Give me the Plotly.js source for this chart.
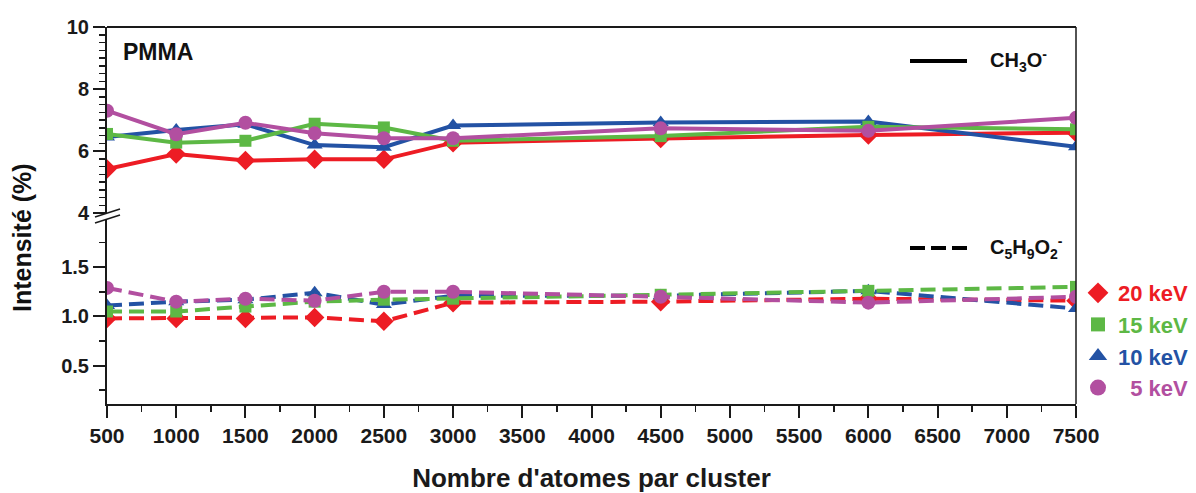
<!DOCTYPE html>
<html>
<head>
<meta charset="utf-8">
<script src="https://cdn.plot.ly/plotly-3.0.1.min.js"></script>
<style>html,body{margin:0;padding:0;background:#fff;}#chart{width:1196px;height:493px;}</style>
</head>
<body>
<div id="chart"></div>
<script>
// Cluster sizes (x axis)
const atoms = [500, 1000, 1500, 2000, 2500, 3000, 4500, 6000, 7500];
const energies = ['20 keV', '15 keV', '10 keV', '5 keV'];
const energyLabels = ['20 keV', '15 keV', '10 keV', '\u00a0\u00a05 keV'];

// CH3O- intensities (%), upper panel
const ch3o_20 = [5.42, 5.90, 5.69, 5.73, 5.73, 6.27, 6.40, 6.52, 6.59];
const ch3o_15 = [6.55, 6.27, 6.33, 6.88, 6.76, 6.33, 6.48, 6.78, 6.70];
const ch3o_10 = [6.45, 6.68, 6.86, 6.19, 6.12, 6.82, 6.92, 6.95, 6.14];
const ch3o_5  = [7.30, 6.54, 6.91, 6.57, 6.41, 6.41, 6.73, 6.65, 7.07];

// C5H9O2- intensities (%), lower panel
const c5_20 = [0.98, 0.98, 0.98, 0.99, 0.95, 1.14, 1.15, 1.18, 1.16];
const c5_15 = [1.05, 1.05, 1.10, 1.15, 1.17, 1.18, 1.22, 1.26, 1.30];
const c5_10 = [1.11, 1.15, 1.17, 1.24, 1.12, 1.21, 1.21, 1.26, 1.08];
const c5_5  = [1.29, 1.15, 1.18, 1.16, 1.25, 1.25, 1.20, 1.14, 1.20];

const xTicks = [500,1000,1500,2000,2500,3000,3500,4000,4500,5000,5500,6000,6500,7000,7500];

// styles
const colors = {'20 keV':'#ED1C24','15 keV':'#5DB845','10 keV':'#2352A4','5 keV':'#B24FA0'};
const symbols = {'20 keV':'diamond','15 keV':'square','10 keV':'triangle-up','5 keV':'circle'};
const sizes = {'20 keV':15,'15 keV':12,'10 keV':14,'5 keV':14};

const upper = {'20 keV':ch3o_20,'15 keV':ch3o_15,'10 keV':ch3o_10,'5 keV':ch3o_5};
const lower = {'20 keV':c5_20,'15 keV':c5_15,'10 keV':c5_10,'5 keV':c5_5};

const drawOrder = ['20 keV','10 keV','15 keV','5 keV'];
const traces = [];
drawOrder.forEach(e => {
  traces.push({x: atoms, y: upper[e], xaxis:'x', yaxis:'y', mode:'lines+markers', showlegend:false,
    line:{color:colors[e], width:4}, marker:{symbol:symbols[e], size:sizes[e], color:colors[e]}, name:e});
  traces.push({x: atoms, y: lower[e], xaxis:'x', yaxis:'y2', mode:'lines+markers', showlegend:false,
    line:{color:colors[e], width:4, dash:'15px,7px'}, marker:{symbol:symbols[e], size:sizes[e], color:colors[e]}, name:e});
});
// legend entries
energies.forEach((e,i) => {
  traces.push({x:[null], y:[null], xaxis:'x', yaxis:'y2', mode:'markers', showlegend:true,
    name:'<span style="color:'+colors[e]+'">'+energyLabels[i]+'</span>',
    marker:{symbol:symbols[e], size:sizes[e]+2, color:colors[e]}});
});

const FONT = 'Liberation Sans, Arial, sans-serif';
const axisCommon = {showline:true, linewidth:2, linecolor:'#1a1a1a', ticks:'outside', ticklen:12, tickwidth:2,
  tickcolor:'#1a1a1a', showgrid:false, zeroline:false, fixedrange:true,
  tickfont:{family:FONT, size:20, color:'#1a1a1a', weight:'bold'}};

const W = 969, H = 377; // plot area px
const px = v => (v - 107) / W;
const py = v => (404 - v) / H;

const layout = {
  width:1196, height:493,
  margin:{l:107, r:120, t:27, b:89, autoexpand:false},
  paper_bgcolor:'#fff', plot_bgcolor:'#fff',
  font:{family:FONT, color:'#1a1a1a'},
  xaxis: Object.assign({}, axisCommon, {
    domain:[0,1], anchor:'y2', range:[500,7500], tickmode:'array', tickvals:xTicks,
    tickfont:{family:FONT, size:21, color:'#1a1a1a', weight:'bold'},
    minor:{dtick:250, tick0:0, ticklen:6, tickwidth:1.5, ticks:'outside', tickcolor:'#1a1a1a', showgrid:false},
    title:{text:"Nombre d'atomes par cluster", font:{family:FONT, size:26, color:'#1a1a1a', weight:'bold'}, standoff:28}
  }),
  yaxis: Object.assign({}, axisCommon, {
    domain:[py(213), 1], anchor:'x', range:[4,10], tickmode:'linear', tick0:4, dtick:2,
    minor:{dtick:0.25, tick0:4, ticklen:6, tickwidth:1.5, ticks:'outside', tickcolor:'#1a1a1a', showgrid:false}
  }),
  yaxis2: Object.assign({}, axisCommon, {
    domain:[0, py(219)], anchor:'x', range:[0.11, 1.99], tickmode:'linear', tick0:0.5, dtick:0.5, tickformat:'.1f',
    minor:{dtick:0.25, tick0:0, ticklen:6, tickwidth:1.5, ticks:'outside', tickcolor:'#1a1a1a', showgrid:false}
  }),
  showlegend:true,
  legend:{x:px(1078), xanchor:'left', y:py(272), yanchor:'top', bgcolor:'rgba(0,0,0,0)',
    font:{family:FONT, size:22, weight:'bold'}, itemclick:false, itemdoubleclick:false},
  shapes:[
    // frame top & right
    {type:'line', xref:'paper', yref:'paper', x0:0, x1:1, y0:1, y1:1, line:{color:'#1a1a1a', width:2}},
    {type:'line', xref:'paper', yref:'paper', x0:1, x1:1, y0:0, y1:1, line:{color:'#1a1a1a', width:1.5}},
    // axis break marks
    {type:'line', xref:'paper', yref:'paper', x0:px(95), x1:px(120), y0:py(217), y1:py(209), line:{color:'#1a1a1a', width:1.5}},
    {type:'line', xref:'paper', yref:'paper', x0:px(95), x1:px(120), y0:py(223), y1:py(215), line:{color:'#1a1a1a', width:1.5}},
    // ion legend keys
    {type:'line', xref:'paper', yref:'paper', x0:px(910), x1:px(967), y0:py(61), y1:py(61), line:{color:'#000', width:4}},
    {type:'line', xref:'paper', yref:'paper', x0:px(910), x1:px(967), y0:py(248), y1:py(248), line:{color:'#000', width:4, dash:'15px,6px'}}
  ],
  annotations:[
    {xref:'paper', yref:'paper', x:px(121), y:py(52), xanchor:'left', yanchor:'middle', showarrow:false,
      text:'PMMA', font:{family:FONT, size:23, color:'#111', weight:'bold'}},
    {xref:'paper', yref:'paper', x:px(988), y:py(61), xanchor:'left', yanchor:'middle', showarrow:false,
      text:'CH<sub>3</sub>O<sup>-</sup>', font:{family:FONT, size:20, color:'#111', weight:'bold'}},
    {xref:'paper', yref:'paper', x:px(988), y:py(247), xanchor:'left', yanchor:'middle', showarrow:false,
      text:'C<sub>5</sub>H<sub>9</sub>O<sub>2</sub><sup>-</sup>', font:{family:FONT, size:20, color:'#111', weight:'bold'}},
    {xref:'paper', yref:'paper', x:px(22), y:py(238), xanchor:'center', yanchor:'middle', showarrow:false, textangle:-90,
      text:'Intensité (%)', font:{family:FONT, size:25, color:'#111', weight:'bold'}}
  ]
};

Plotly.newPlot('chart', traces, layout, {displayModeBar:false, staticPlot:true});
</script>
</body>
</html>
